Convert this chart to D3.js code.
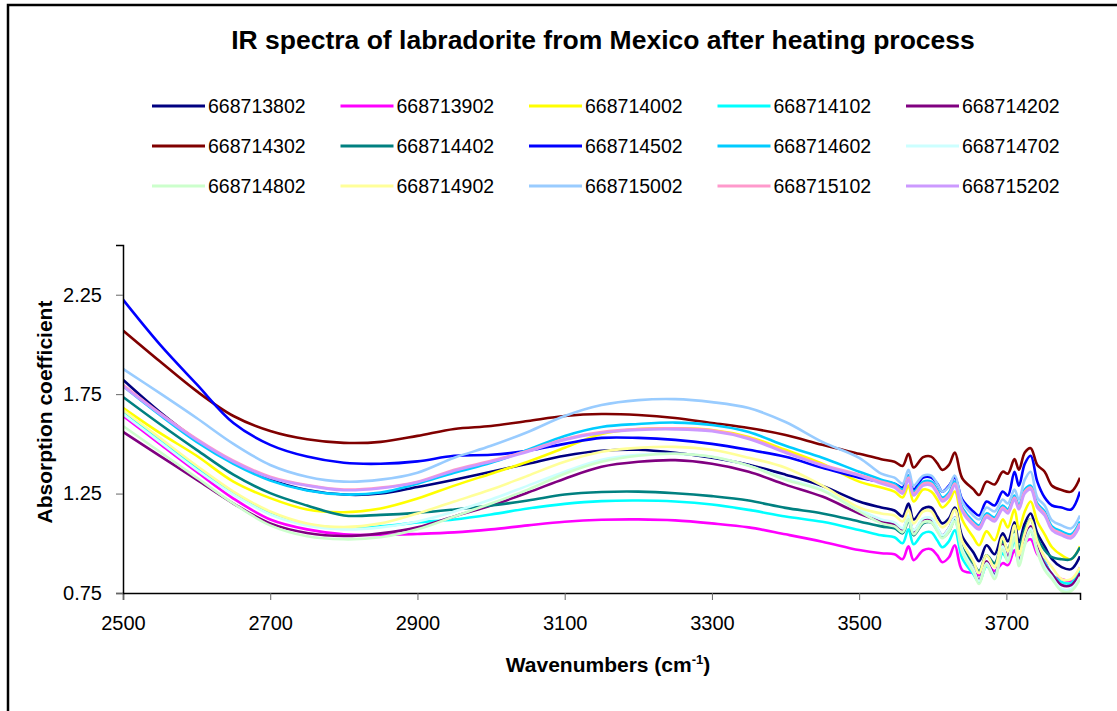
<!DOCTYPE html>
<html lang="en">
<head>
  <meta charset="UTF-8">
  <title>IR spectra of labradorite</title>
  <style>
    body { margin: 0; background: #fff; }
    svg { display: block; font-family: "Liberation Sans", Arial, sans-serif; }
  </style>
</head>
<body>
<div id="chart"></div>

<script src="https://cdn.jsdelivr.net/npm/d3@7/dist/d3.min.js"></script>
<script>
  // wavenumbers (cm-1): coarse where spectra are smooth, finer in the noisy OH region
  const wavenumbers = [2500, 2550, 2600, 2650, 2700, 2750, 2800, 2850, 2900, 2950, 3000,
    3050, 3100, 3150, 3200, 3250, 3300, 3350, 3400, 3450, 3500,
    3530, 3548, 3559, 3567, 3574, 3587, 3598, 3606, 3613, 3622, 3630, 3640, 3655, 3663,
    3673, 3684, 3695, 3702, 3711, 3717, 3725, 3733, 3742, 3752, 3762, 3775, 3788, 3800];

  const s668713802 = [1.822, 1.66, 1.52, 1.41, 1.32, 1.268, 1.245, 1.25, 1.283, 1.32, 1.36, 1.40, 1.44, 1.465, 1.47, 1.455, 1.43, 1.395, 1.345, 1.288, 1.21,
    1.18, 1.165, 1.135, 1.20, 1.12, 1.175, 1.18, 1.135, 1.10, 1.125, 1.18, 1.035, 0.955, 0.91, 0.99, 0.945, 1.05, 1.01, 1.105, 1.005, 1.10, 1.15, 1.05, 0.985, 0.92, 0.88, 0.87, 0.935];
  const s668713902 = [1.641, 1.50, 1.36, 1.225, 1.12, 1.07, 1.045, 1.042, 1.047, 1.055, 1.07, 1.09, 1.108, 1.118, 1.12, 1.115, 1.10, 1.08, 1.045, 1.008, 0.966,
    0.95, 0.945, 0.92, 0.985, 0.915, 0.965, 0.97, 0.94, 0.905, 0.93, 0.99, 0.865, 0.85, 0.84, 0.89, 0.86, 0.90, 0.89, 0.965, 0.91, 1.0, 1.02, 0.945, 0.91, 0.835, 0.82, 0.81, 0.88];
  const s668714002 = [1.681, 1.555, 1.44, 1.31, 1.227, 1.17, 1.156, 1.175, 1.225, 1.29, 1.35, 1.41, 1.48, 1.55, 1.575, 1.578, 1.57, 1.535, 1.47, 1.40, 1.31,
    1.28, 1.26, 1.23, 1.29, 1.21, 1.27, 1.26, 1.22, 1.18, 1.21, 1.26, 1.12, 1.03, 0.99, 1.06, 1.015, 1.12, 1.08, 1.17, 1.07, 1.16, 1.21, 1.11, 1.045, 0.98, 0.94, 0.92, 0.985];
  const s668714102 = [1.666, 1.52, 1.38, 1.25, 1.151, 1.095, 1.076, 1.085, 1.105, 1.12, 1.145, 1.175, 1.198, 1.212, 1.215, 1.21, 1.195, 1.168, 1.135, 1.108, 1.067,
    1.04, 1.03, 1.00, 1.07, 0.995, 1.05, 1.055, 1.015, 0.98, 1.01, 1.065, 0.925, 0.845, 0.805, 0.885, 0.845, 0.95, 0.915, 1.015, 0.915, 1.01, 1.06, 0.965, 0.905, 0.845, 0.805, 0.80, 0.865];
  const s668714202 = [1.56, 1.44, 1.32, 1.20, 1.10, 1.052, 1.037, 1.05, 1.08, 1.135, 1.19, 1.255, 1.325, 1.385, 1.41, 1.418, 1.40, 1.36, 1.295, 1.235, 1.15,
    1.11, 1.095, 1.07, 1.135, 1.06, 1.12, 1.12, 1.075, 1.04, 1.075, 1.13, 0.975, 0.87, 0.815, 0.91, 0.84, 0.995, 0.93, 1.055, 0.91, 1.015, 1.085, 0.98, 0.895, 0.845, 0.79, 0.79, 0.85];
  const s668714302 = [2.07, 1.915, 1.765, 1.64, 1.565, 1.523, 1.505, 1.51, 1.54, 1.575, 1.59, 1.615, 1.64, 1.65, 1.645, 1.63, 1.605, 1.58, 1.545, 1.495, 1.45,
    1.423, 1.41, 1.389, 1.45, 1.381, 1.433, 1.436, 1.403, 1.369, 1.394, 1.456, 1.327, 1.272, 1.243, 1.31, 1.296, 1.36, 1.35, 1.423, 1.37, 1.456, 1.478, 1.394, 1.36, 1.289, 1.268, 1.26, 1.33];
  const s668714402 = [1.736, 1.60, 1.47, 1.345, 1.252, 1.19, 1.14, 1.143, 1.153, 1.17, 1.19, 1.215, 1.245, 1.258, 1.26, 1.252, 1.237, 1.215, 1.178, 1.15, 1.11,
    1.085, 1.075, 1.05, 1.115, 1.04, 1.10, 1.105, 1.065, 1.03, 1.06, 1.12, 0.98, 0.90, 0.86, 0.94, 0.90, 1.01, 0.97, 1.07, 0.97, 1.07, 1.12, 1.025, 0.965, 0.93, 0.92, 0.92, 0.98];
  const s668714502 = [2.225, 2.0, 1.80, 1.605, 1.495, 1.436, 1.405, 1.40, 1.412, 1.44, 1.445, 1.465, 1.50, 1.53, 1.53, 1.52, 1.50, 1.47, 1.435, 1.38, 1.33,
    1.31, 1.30, 1.28, 1.34, 1.27, 1.33, 1.33, 1.30, 1.26, 1.29, 1.33, 1.22, 1.16, 1.14, 1.21, 1.19, 1.26, 1.24, 1.36, 1.29, 1.40, 1.44, 1.31, 1.23, 1.19, 1.18, 1.17, 1.26];
  const s668714602 = [1.79, 1.645, 1.51, 1.40, 1.315, 1.265, 1.245, 1.255, 1.30, 1.355, 1.405, 1.47, 1.54, 1.585, 1.60, 1.607, 1.595, 1.56, 1.49, 1.43, 1.36,
    1.32, 1.30, 1.27, 1.34, 1.26, 1.31, 1.31, 1.27, 1.23, 1.255, 1.31, 1.18, 1.11, 1.09, 1.15, 1.13, 1.19, 1.17, 1.24, 1.19, 1.27, 1.29, 1.20, 1.16, 1.085, 1.06, 1.045, 1.11];
  const s668714702 = [1.65, 1.51, 1.37, 1.245, 1.145, 1.09, 1.07, 1.08, 1.11, 1.16, 1.22, 1.29, 1.36, 1.42, 1.445, 1.45, 1.435, 1.39, 1.325, 1.27, 1.17,
    1.12, 1.105, 1.075, 1.14, 1.065, 1.125, 1.125, 1.08, 1.04, 1.075, 1.13, 0.97, 0.87, 0.81, 0.90, 0.835, 0.985, 0.92, 1.045, 0.90, 1.00, 1.075, 0.965, 0.88, 0.83, 0.77, 0.77, 0.83];
  const s668714802 = [1.59, 1.46, 1.33, 1.20, 1.09, 1.035, 1.02, 1.03, 1.07, 1.135, 1.20, 1.27, 1.35, 1.41, 1.44, 1.45, 1.435, 1.39, 1.32, 1.265, 1.16,
    1.10, 1.085, 1.055, 1.12, 1.045, 1.105, 1.105, 1.06, 1.025, 1.06, 1.11, 0.955, 0.855, 0.795, 0.89, 0.82, 0.97, 0.905, 1.03, 0.885, 0.99, 1.06, 0.955, 0.865, 0.82, 0.76, 0.76, 0.82];
  const s668714902 = [1.67, 1.53, 1.39, 1.26, 1.16, 1.10, 1.082, 1.10, 1.15, 1.21, 1.27, 1.34, 1.41, 1.46, 1.48, 1.485, 1.47, 1.43, 1.38, 1.29, 1.18,
    1.15, 1.14, 1.11, 1.17, 1.10, 1.16, 1.16, 1.11, 1.08, 1.11, 1.17, 1.01, 0.91, 0.85, 0.94, 0.88, 1.03, 0.96, 1.09, 0.94, 1.05, 1.12, 1.01, 0.93, 0.88, 0.82, 0.82, 0.88];
  const s668715002 = [1.877, 1.755, 1.63, 1.50, 1.394, 1.335, 1.31, 1.32, 1.355, 1.43, 1.49, 1.56, 1.64, 1.695, 1.72, 1.725, 1.71, 1.68, 1.61, 1.51, 1.43,
    1.35, 1.33, 1.30, 1.37, 1.29, 1.34, 1.34, 1.30, 1.26, 1.285, 1.34, 1.21, 1.14, 1.12, 1.18, 1.16, 1.22, 1.20, 1.27, 1.22, 1.32, 1.36, 1.23, 1.19, 1.115, 1.09, 1.075, 1.14];
  const s668715102 = [1.797, 1.655, 1.525, 1.415, 1.335, 1.293, 1.27, 1.28, 1.31, 1.37, 1.415, 1.465, 1.525, 1.56, 1.575, 1.578, 1.568, 1.53, 1.46, 1.395, 1.345,
    1.31, 1.29, 1.26, 1.33, 1.25, 1.30, 1.30, 1.26, 1.22, 1.245, 1.30, 1.17, 1.10, 1.08, 1.14, 1.12, 1.18, 1.16, 1.23, 1.18, 1.26, 1.28, 1.19, 1.15, 1.075, 1.05, 1.035, 1.10];
  const s668715202 = [1.79, 1.65, 1.52, 1.41, 1.33, 1.29, 1.267, 1.277, 1.307, 1.365, 1.41, 1.46, 1.52, 1.555, 1.57, 1.573, 1.563, 1.525, 1.455, 1.39, 1.34,
    1.30, 1.28, 1.25, 1.32, 1.24, 1.29, 1.29, 1.25, 1.21, 1.235, 1.29, 1.16, 1.09, 1.07, 1.13, 1.11, 1.17, 1.15, 1.22, 1.17, 1.25, 1.27, 1.18, 1.14, 1.065, 1.04, 1.025, 1.09];

  const seriesNames = ["668713802", "668713902", "668714002", "668714102", "668714202",
    "668714302", "668714402", "668714502", "668714602", "668714702",
    "668714802", "668714902", "668715002", "668715102", "668715202"];
  const seriesValues = [s668713802, s668713902, s668714002, s668714102, s668714202,
    s668714302, s668714402, s668714502, s668714602, s668714702,
    s668714802, s668714902, s668715002, s668715102, s668715202];
  const seriesColors = ["#000080", "#ff00ff", "#ffff00", "#00ffff", "#800080",
    "#800000", "#008080", "#0000ff", "#00ccff", "#ccffff",
    "#ccffcc", "#ffff99", "#99ccff", "#ff99cc", "#cc99ff"];

  const xTicks = [2500, 2700, 2900, 3100, 3300, 3500, 3700];
  const yTicks = [0.75, 1.25, 1.75, 2.25];

  const W = 1117, H = 711;
  const plot = {left: 123, right: 1080, top: 245, bottom: 593};

  const svg = d3.select("#chart").append("svg")
    .attr("width", W)
    .attr("height", H);

  svg.append("rect").attr("width", W).attr("height", H).attr("fill", "#fff");

  // outer chart frame (runs off the right/bottom of the picture)
  svg.append("rect")
    .attr("x", 8).attr("y", 5)
    .attr("width", 1200).attr("height", 800)
    .attr("fill", "none")
    .attr("stroke", "#000")
    .attr("stroke-width", 2.5);

  const x = d3.scaleLinear().domain([2500, 3800]).range([plot.left, plot.right]);
  const y = d3.scaleLinear().domain([0.75, 2.5]).range([plot.bottom, plot.top]);

  svg.append("text")
    .attr("x", 603).attr("y", 49)
    .attr("text-anchor", "middle")
    .attr("font-weight", "bold")
    .attr("font-size", 26.5)
    .text("IR spectra of labradorite from Mexico after heating process");

  // legend: 5 columns x 3 rows
  const legend = svg.append("g");
  seriesNames.forEach(function(name, i) {
    const col = i % 5, row = Math.floor(i / 5);
    const lx = 152 + col * 188.5, ly = 106 + row * 40;
    legend.append("line")
      .attr("x1", lx).attr("x2", lx + 53)
      .attr("y1", ly).attr("y2", ly)
      .attr("stroke", seriesColors[i])
      .attr("stroke-width", 3);
    legend.append("text")
      .attr("x", lx + 56).attr("y", ly)
      .attr("dy", "0.36em")
      .attr("font-size", 19.5)
      .text(name);
  });

  svg.append("clipPath").attr("id", "clip")
    .append("rect")
    .attr("x", plot.left).attr("y", plot.top)
    .attr("width", plot.right - plot.left).attr("height", plot.bottom - plot.top);

  const line = d3.line()
    .x(function(d, i) { return x(wavenumbers[i]); })
    .y(function(d) { return y(d); })
    .curve(d3.curveCatmullRom.alpha(0.5));

  svg.append("g")
    .attr("clip-path", "url(#clip)")
    .selectAll("path")
    .data(seriesValues)
    .enter()
    .append("path")
    .attr("fill", "none")
    .attr("stroke", function(d, i) { return seriesColors[i]; })
    .attr("stroke-width", 2.6)
    .attr("stroke-linejoin", "round")
    .attr("d", line);

  // axes
  const xAxis = svg.append("g")
    .attr("transform", "translate(0," + plot.bottom + ")")
    .call(d3.axisBottom(x).tickValues(xTicks).tickSize(7).tickPadding(16).tickFormat(d3.format("d")));
  const yAxis = svg.append("g")
    .attr("transform", "translate(" + plot.left + ",0)")
    .call(d3.axisLeft(y).tickValues(yTicks).tickSize(7).tickPadding(14).tickFormat(d3.format(".2f")));

  [xAxis, yAxis].forEach(function(g) {
    g.select(".domain").attr("stroke", "#000").attr("stroke-width", 1.5);
    g.selectAll(".tick line").attr("stroke", "#666");
    g.selectAll(".tick text")
      .attr("font-size", 20)
      .attr("font-family", "\"Liberation Sans\", Arial, sans-serif")
      .attr("fill", "#000");
  });

  svg.append("text")
    .attr("x", 608).attr("y", 672)
    .attr("text-anchor", "middle")
    .attr("font-weight", "bold")
    .attr("font-size", 21)
    .html("Wavenumbers (cm<tspan dy='-8' font-size='13'>-1</tspan><tspan dy='8'>)</tspan>");

  svg.append("text")
    .attr("transform", "translate(52,412) rotate(-90)")
    .attr("text-anchor", "middle")
    .attr("font-weight", "bold")
    .attr("font-size", 21)
    .text("Absorption coefficient");
</script>
</body>
</html>
